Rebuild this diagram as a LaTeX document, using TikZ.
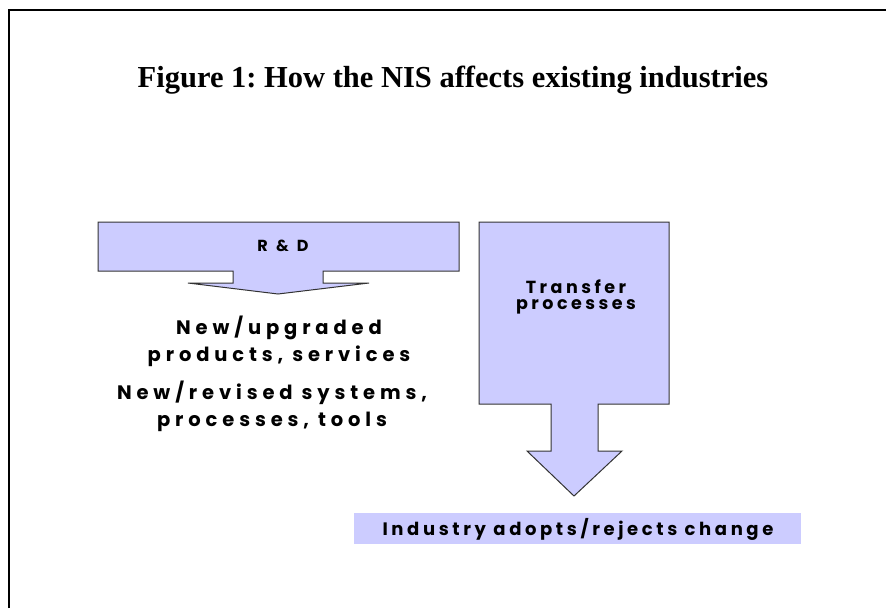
\documentclass[tikz,border=0pt]{standalone}
\usepackage{fontspec}
\setmainfont{Liberation Serif}
\newfontfamily\gothic[LetterSpace=25]{Poppins}
\newfontfamily\gothicnarrow[LetterSpace=20]{Poppins}
\newfontfamily\gothicwide[LetterSpace=30]{Poppins}
\definecolor{lavender}{HTML}{CCCCFF}
\frenchspacing
\tikzset{
  blockarrow/.style={fill=lavender,draw=black!80,line width=1pt,line join=miter},
  gothictext/.style={inner sep=0pt,font=\gothic\bfseries\fontsize{19.5}{26.5}\selectfont,align=center},
}
\begin{document}
\begin{tikzpicture}[x=1pt,y=-1pt]
\useasboundingbox (0,0) rectangle (886,608);
\draw[line width=2pt] (9,608) -- (9,10) -- (886,10);
\node[anchor=base,font=\bfseries\fontsize{30.5}{36}\selectfont] (title) at (453,87) {Figure 1: How the NIS affects existing industries};
% R & D block arrow
\draw[blockarrow] (98,222) -- (459,222) -- (459,271) -- (323,271) -- (323,283) -- (369,283)
  -- (278,294) -- (188,283) -- (233,283) -- (233,271) -- (98,271) -- cycle;
\node[gothictext,font=\gothicwide\bfseries\fontsize{16}{18}\selectfont,anchor=base] (rd) at (283,251) {R \& D};
% transfer block arrow
\draw[blockarrow] (479,222) -- (669,222) -- (669,404) -- (598,404) -- (598,451) -- (622,451)
  -- (574,496) -- (527,451) -- (551,451) -- (551,404) -- (479,404) -- cycle;
\node[gothictext,font=\gothicnarrow\bfseries\fontsize{17.5}{16}\selectfont,anchor=base] (transfer) at (576,309) {Transfer\\processes};
\node[gothictext,anchor=north] (products) at (279,316) {New/upgraded\\products, services};
\node[gothictext,anchor=north] (systems) at (272,381) {New/revised systems,\\processes, tools};
% outcome
\fill[lavender] (354,513) rectangle (801,544);
\node[gothictext,font=\gothicnarrow\bfseries\fontsize{18}{20}\selectfont,anchor=base] (industry) at (578,535) {Industry adopts/rejects change};
\end{tikzpicture}
\end{document}
